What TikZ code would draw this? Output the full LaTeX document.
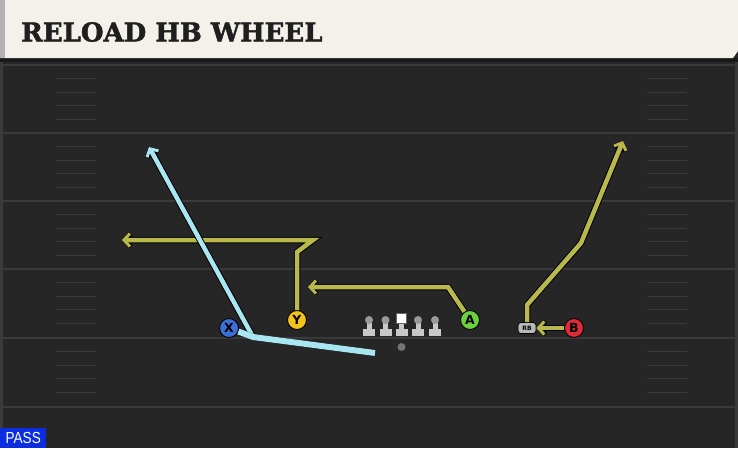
\documentclass[tikz,border=0pt]{standalone}
\usepackage{fontspec}
\setmainfont{DejaVu Sans}
\newfontfamily\titlefont[BoldFeatures={FakeBold=1.8}]{DejaVu Serif}
\newfontfamily\tagfont{Liberation Sans}
\usetikzlibrary{arrows.meta}
\definecolor{field}{HTML}{262626}
\definecolor{yardline}{HTML}{3A3A3A}
\definecolor{cream}{HTML}{F4F1EA}
\definecolor{olive}{HTML}{B8B84C}
\definecolor{skyblue}{HTML}{A8E6F2}
\definecolor{xblue}{HTML}{3D6FD8}
\definecolor{ygold}{HTML}{F2C41A}
\definecolor{agreen}{HTML}{6AD13C}
\definecolor{bred}{HTML}{E02A3A}
\definecolor{lmgrey}{HTML}{C8C8C8}
\definecolor{passblue}{HTML}{0A2EE0}
\tikzset{
  player/.style={circle, draw=black, line width=0.9pt, minimum size=19pt, inner sep=0pt,
    font=\bfseries\fontsize{12.5}{12.5}\selectfont},
  edge/.style={line width=6.5pt, draw=black},
  route/.style={line width=4.5pt},
  tip/.style={-{Straight Barb[length=6pt,width=13pt,line width=0pt 0.65]}},
  yard/.style={draw=yardline, line width=1.6pt},
  hash/.style={draw=yardline, line width=1.3pt}
}
% one route: dark edge first, colour on top
\newcommand{\playroute}[3]{\draw[edge,#2] #3; \draw[route,draw=#1,#2] #3;}
\begin{document}
\begin{tikzpicture}[x=1pt,y=-1pt]
\useasboundingbox (0,0) rectangle (738,448);
% field
\fill[field] (0,0) rectangle (738,448);
\fill[yardline] (0,58) rectangle (3,448);
\fill[yardline] (735,58) rectangle (738,448);
\foreach \y in {65,133,201,269,338,407}
  \draw[yard] (0,\y) -- (738,\y);
\foreach \y in {65,133,201,269,338}
  \foreach \k in {1,...,4} {
    \draw[hash] (56,{\y+13.6*\k}) -- (96,{\y+13.6*\k});
    \draw[hash] (647,{\y+13.6*\k}) -- (687,{\y+13.6*\k});
  }

% header
\fill[black!90] (0,58) rectangle (738,62);
\fill[cream] (0,0) -- (738,0) -- (738,51) -- (733,58) -- (0,58) -- cycle;
\fill[black!30] (0,0) rectangle (5,58);
\node[anchor=west, inner sep=0pt, text=black!88] (title) at (21,32)
  {\titlefont\bfseries\fontsize{26}{26}\selectfont RELOAD HB WHEEL};

% line
\foreach \x in {369,385.5,418,435} {
  \fill[lmgrey] (\x-6,328.5) rectangle (\x+6,336);
  \fill[lmgrey] (\x-2.5,320) rectangle (\x+2.5,330);
  \fill[black!40] (\x,320) circle (4);
}
\fill[lmgrey] (395.5,328.5) rectangle (407.5,336);
\fill[lmgrey] (399,322) rectangle (404,330);
\fill[white, draw=black!60, line width=0.5pt] (396.5,313.5) rectangle (406.5,323.5);
\node[circle, fill=black!55, minimum size=8pt, inner sep=0pt] (ball) at (401.5,347) {};

% players
\node[player, fill=xblue] (X) at (229,328) {X};
\node[player, fill=ygold] (Y) at (297,320) {Y};
\node[player, fill=agreen] (A) at (470,320) {A};
\node[player, fill=bred] (B) at (574,328) {B};
\node[rounded corners=3pt, fill=black!28, draw=black, line width=0.7pt, minimum width=18pt,
  minimum height=11pt, inner sep=0pt, font=\bfseries\fontsize{6}{6}\selectfont] (RB) at (527,328) {RB};

% routes
\coordinate (xcut) at (253,337);
\coordinate (xdrag) at (375,353);
\coordinate (xdeep) at (149,147);
\coordinate (ystem) at (297,252);
\coordinate (ybreak) at (313,240);
\coordinate (yout) at (122,240);
\coordinate (abreak) at (448,287);
\coordinate (ain) at (308,287);
\coordinate (rbstem) at (527,305);
\coordinate (rbbend) at (581,243);
\coordinate (rbdeep) at (623,141);
\playroute{olive}{tip}{(Y) -- (ystem) -- (ybreak) -- (yout)}
\playroute{olive}{tip}{(A) -- (abreak) -- (ain)}
\playroute{olive}{tip}{(RB.north) -- (rbstem) -- (rbbend) -- (rbdeep)}
\playroute{olive}{tip}{(B) -- (RB)}
\playroute{skyblue}{tip}{(xcut) -- (xdeep)}
\playroute{skyblue}{line width=6pt}{(X) -- (xcut) -- (xdrag)}

% play type
\node[fill=passblue, text=white, anchor=south west, minimum width=46pt, minimum height=20pt,
  inner sep=0pt, font=\tagfont\fontsize{16}{16}\selectfont] (tag) at (0,448) {\scalebox{0.85}[1]{PASS}};
\end{tikzpicture}
\end{document}
